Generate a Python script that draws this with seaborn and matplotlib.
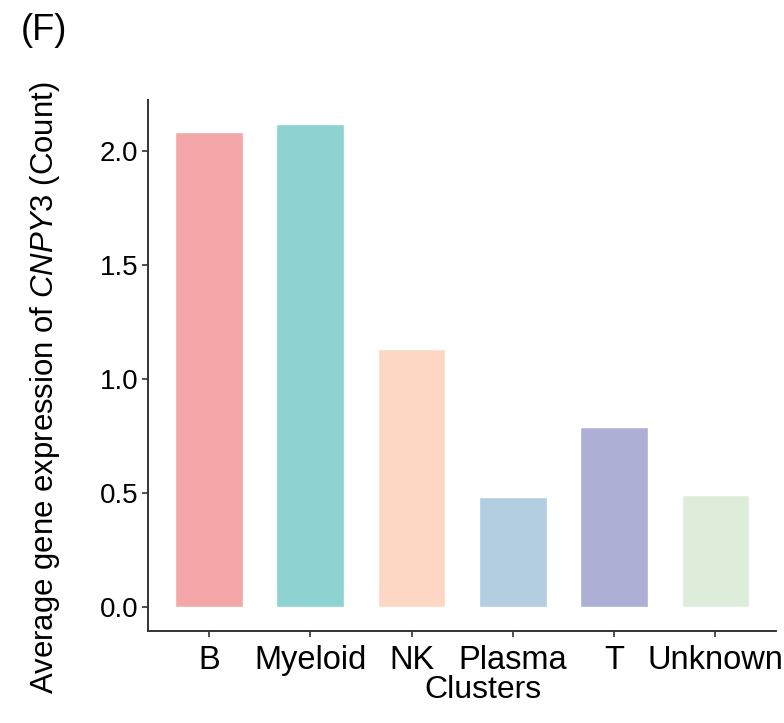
import pandas as pd
import matplotlib
matplotlib.use('Agg')
import matplotlib.pyplot as plt
import seaborn as sns

clusters = ['B', 'Myeloid', 'NK', 'Plasma', 'T', 'Unknown']
avg_expr = [2.083, 2.118, 1.132, 0.482, 0.789, 0.491]
bar_colors = ['#F4A7A8', '#8DD3D2', '#FDD7C3', '#B3CDE1', '#ADAFD5', '#DDEDDA']
yticks = [0.0, 0.5, 1.0, 1.5, 2.0]

df = pd.DataFrame({'cluster': clusters, 'expr': avg_expr})

sns.set_style('white')
plt.rcParams['font.family'] = ['Liberation Sans', 'DejaVu Sans']
plt.rcParams['mathtext.fontset'] = 'custom'
plt.rcParams['mathtext.it'] = 'Liberation Sans:italic'
plt.rcParams['mathtext.rm'] = 'Liberation Sans'
plt.rcParams['text.color'] = 'black'
plt.rcParams['axes.labelcolor'] = 'black'
plt.rcParams['xtick.color'] = 'black'
plt.rcParams['ytick.color'] = 'black'

fig = plt.figure(figsize=(7.84, 7.23), dpi=100)
ax = fig.add_axes([0.189, 0.1272, 0.801, 0.7345])

sns.barplot(data=df, x='cluster', y='expr', hue='cluster', palette=bar_colors,
            width=0.667, legend=False, ax=ax, saturation=1)

ax.set_xlim(-0.6, 5.6)
ax.set_ylim(-0.105, 2.224)
ax.set_yticks(yticks)
ax.set_yticklabels([f'{v:.1f}' for v in yticks])

for s in ['top', 'right']:
    ax.spines[s].set_visible(False)
for s in ['left', 'bottom']:
    ax.spines[s].set_color('#333333')
    ax.spines[s].set_linewidth(1.4)

ax.tick_params(axis='both', bottom=True, left=True, direction='out',
               length=4, width=1.2, color='#333333', labelcolor='black')
ax.tick_params(axis='x', labelsize=23.5, pad=6)
ax.tick_params(axis='y', labelsize=20, pad=3)

ax.set_xlabel('Clusters', fontsize=23, labelpad=0)
ax.xaxis.set_label_coords(0.533, -0.083)
ax.set_ylabel(r'Average gene expression of $\mathit{CNPY3}$ (Count)', fontsize=22.4)
ax.yaxis.set_label_coords(-0.138, 0.4576)

fig.text(0.027, 0.958, '(F)', fontsize=26, ha='left', va='center')

fig.savefig('out.png', dpi=100)
